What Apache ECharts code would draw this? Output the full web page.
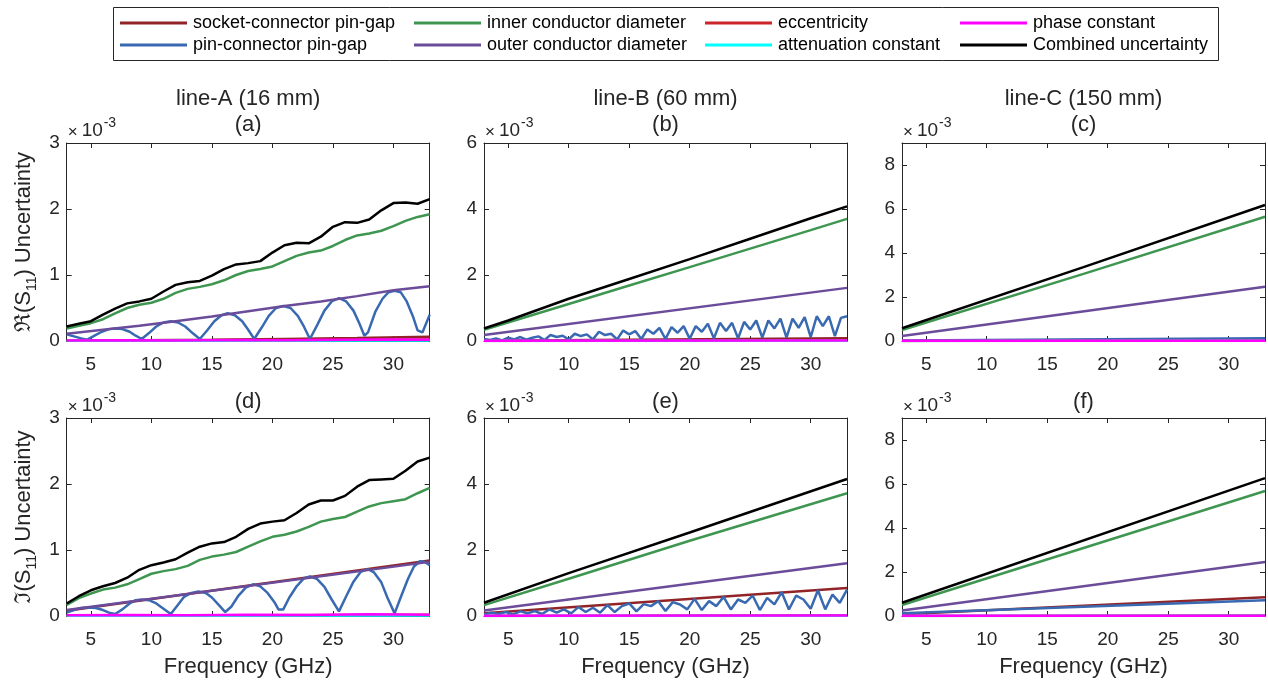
<!DOCTYPE html>
<html><head><meta charset="utf-8">
<script src="https://cdn.jsdelivr.net/npm/echarts@6/dist/echarts.min.js"></script>
<style>html,body{margin:0;padding:0;background:#fff}#c{width:1268px;height:681px}</style>
</head><body><div id="c"></div>
<script>
// ---------------- DATA (values in units of 1e-3) ----------------
const seriesNames = ['socket-connector pin-gap','pin-connector pin-gap','inner conductor diameter','outer conductor diameter','eccentricity','attenuation constant','phase constant','Combined uncertainty'];
const xTickValues = [5,10,15,20,25,30];
const panelLetters = ['(a)','(b)','(c)','(d)','(e)','(f)'];
const lineTitles = ['line-A (16 mm)','line-B (60 mm)','line-C (150 mm)'];

const freq = [3,4,5,6,7,8,9,10,11,12,13,14,15,16,17,18,19,20,21,22,23,24,25,26,27,28,29,30,31,32,33];
const freqEnds = [3,33];

// (a) line-A, real part
const aCombined = [0.22,0.26,0.30,0.40,0.49,0.57,0.60,0.64,0.75,0.85,0.89,0.91,0.99,1.09,1.16,1.18,1.21,1.34,1.45,1.49,1.48,1.58,1.73,1.80,1.79,1.84,1.98,2.09,2.10,2.08,2.15];
const aInner = [0.19,0.23,0.27,0.33,0.42,0.50,0.55,0.58,0.64,0.73,0.79,0.82,0.86,0.92,1.00,1.06,1.09,1.13,1.21,1.29,1.34,1.37,1.44,1.53,1.60,1.63,1.67,1.74,1.82,1.88,1.92];
const aOuterF = [3,6,9,12,15,18,21,24,27,30,33];
const aOuter = [0.11,0.17,0.23,0.30,0.37,0.45,0.53,0.60,0.68,0.77,0.83];
const aPinF = [3.0,3.6,4.2,4.7,5.3,5.9,6.5,7.0,7.6,8.2,8.7,9.2,9.8,10.4,11.0,11.6,12.2,12.8,13.4,14.0,14.6,15.2,15.8,16.3,16.9,17.5,18.0,18.5,19.1,19.7,20.3,20.9,21.5,22.1,22.6,23.1,23.7,24.3,24.9,25.5,26.1,26.7,27.2,27.6,27.9,28.5,29.1,29.6,30.1,30.6,31.1,31.6,32.0,32.4,33.0];
const aPin = [0.10,0.07,0.04,0.02,0.08,0.14,0.18,0.19,0.18,0.14,0.08,0.03,0.12,0.22,0.28,0.30,0.28,0.22,0.12,0.03,0.16,0.30,0.39,0.42,0.39,0.30,0.17,0.03,0.20,0.38,0.50,0.53,0.50,0.38,0.22,0.03,0.24,0.46,0.60,0.65,0.60,0.46,0.26,0.08,0.13,0.44,0.64,0.74,0.76,0.74,0.60,0.38,0.16,0.13,0.40];
const aSocketF = [3,9,15,21,27,33];
const aSocket = [0.005,0.012,0.020,0.032,0.045,0.065];
const aEcc = [0.002,0.022];
const aAtten = [0.002,0.006];
const aPhaseF = [3,8,12,17,21,26,30,33];
const aPhase = [0.006,0.010,0.008,0.014,0.012,0.018,0.022,0.020];

// (b) line-B, real part
const bCombinedF = [3,5,10,15,20,25,30,33];
const bCombined = [0.38,0.62,1.28,1.88,2.48,3.10,3.72,4.08];
const bInnerF = [3,10,15,20,25,30,33];
const bInner = [0.34,1.12,1.68,2.24,2.80,3.36,3.70];
const bOuter = [0.18,1.61];
const bPinF = [3,3.5,4,4.5,5,5.5,6,6.5,7,7.5,8,8.5,9,9.5,10,10.5,11,11.5,12,12.5,13,13.5,14,14.5,15,15.5,16,16.5,17,17.5,18,18.5,19,19.5,20,20.5,21,21.5,22,22.5,23,23.5,24,24.5,25,25.5,26,26.5,27,27.5,28,28.5,29,29.5,30,30.5,31,31.5,32,32.5,33];
const bPin = [0.06,0.03,0.08,0.02,0.10,0.05,0.12,0.04,0.10,0.14,0.03,0.18,0.12,0.16,0.05,0.22,0.15,0.20,0.05,0.28,0.18,0.22,0.05,0.32,0.20,0.30,0.06,0.35,0.22,0.40,0.06,0.42,0.25,0.45,0.07,0.45,0.28,0.52,0.08,0.55,0.30,0.55,0.08,0.58,0.35,0.62,0.10,0.62,0.38,0.68,0.10,0.68,0.40,0.72,0.12,0.75,0.45,0.75,0.15,0.70,0.75];
const bSocket = [0.01,0.08];
const bEcc = [0.003,0.020];
const bAtten = [0.002,0.005];
const bPhase = [0.008,0.012];

// (c) line-C, real part
const cMidF = [3,18,33];
const cCombined = [0.58,3.36,6.18];
const cInner = [0.50,3.05,5.65];
const cOuter = [0.23,2.47];
const cPin = [0.02,0.13];
const cSocket = [0.005,0.08];
const cEcc = [0.002,0.020];
const cAtten = [0.002,0.006];
const cPhase = [0.010,0.015];

// (d) line-A, imaginary part
const dCombined = [0.19,0.30,0.39,0.45,0.50,0.58,0.70,0.77,0.81,0.86,0.96,1.05,1.10,1.12,1.20,1.32,1.40,1.43,1.45,1.56,1.69,1.75,1.75,1.82,1.96,2.06,2.07,2.08,2.20,2.34,2.40];
const dInner = [0.17,0.27,0.34,0.40,0.43,0.48,0.56,0.64,0.68,0.71,0.76,0.85,0.90,0.93,0.97,1.05,1.13,1.20,1.23,1.28,1.35,1.43,1.47,1.50,1.58,1.66,1.71,1.74,1.77,1.86,1.94];
const dOuter = [0.09,0.82];
const dSocket = [0.08,0.84];
const dPinF = [3.0,3.6,4.2,4.8,5.4,6.0,6.5,7.0,7.6,8.2,8.7,9.2,9.8,10.4,11.0,11.6,12.2,12.7,13.3,13.9,14.5,15.0,15.6,16.1,16.6,17.2,17.8,18.4,19.0,19.6,20.2,20.5,20.9,21.4,22.0,22.6,23.1,23.7,24.3,24.9,25.5,26.1,26.7,27.3,27.9,28.4,29.0,29.5,30.1,30.6,31.2,31.7,32.2,32.6,33.0];
const dPin = [0.05,0.09,0.12,0.13,0.12,0.09,0.05,0.03,0.10,0.19,0.24,0.25,0.24,0.19,0.11,0.03,0.17,0.29,0.35,0.37,0.35,0.28,0.16,0.06,0.14,0.31,0.43,0.48,0.45,0.35,0.20,0.10,0.10,0.28,0.45,0.57,0.60,0.56,0.44,0.25,0.07,0.30,0.52,0.67,0.71,0.66,0.51,0.28,0.04,0.28,0.56,0.75,0.83,0.82,0.77];
const dEcc = [0.003,0.020];
const dAtten = [0.002,0.008];
const dPhaseF = [3,8,13,18,23,28,33];
const dPhase = [0.010,0.015,0.012,0.020,0.015,0.025,0.020];

// (e) line-B, imaginary part
const eLinF = [3,10,20,33];
const eCombined = [0.40,1.30,2.53,4.15];
const eInner = [0.33,1.13,2.28,3.72];
const eOuter = [0.17,1.60];
const eSocket = [0.08,0.85];
const ePinF = [3.0,3.6,4.2,4.8,5.4,6.0,6.6,7.2,7.8,8.4,9.0,9.6,10.2,10.8,11.4,12.0,12.6,13.2,13.8,14.4,15.0,15.6,16.2,16.8,17.4,18.0,18.6,19.2,19.8,20.4,21.0,21.6,22.2,22.8,23.4,24.0,24.6,25.2,25.8,26.4,27.0,27.6,28.2,28.8,29.4,30.0,30.6,31.2,31.8,32.4,33.0];
const ePin = [0.05,0.10,0.06,0.12,0.05,0.14,0.08,0.15,0.06,0.20,0.10,0.20,0.08,0.27,0.12,0.25,0.10,0.33,0.12,0.30,0.38,0.14,0.36,0.30,0.45,0.15,0.42,0.35,0.20,0.52,0.18,0.45,0.30,0.58,0.20,0.50,0.40,0.62,0.18,0.55,0.35,0.72,0.20,0.62,0.50,0.22,0.78,0.20,0.65,0.40,0.80];
const eEcc = [0.003,0.020];
const eAtten = [0.002,0.005];
const ePhase = [0.008,0.012];

// (f) line-C, imaginary part
const fCombined = [0.60,6.27];
const fInner = [0.50,5.68];
const fOuter = [0.25,2.45];
const fSocket = [0.08,0.85];
const fPin = [0.12,0.72];
const fEcc = [0.002,0.020];
const fAtten = [0.002,0.006];
const fPhase = [0.010,0.015];

const yMaxes = [3,6,9,3,6,9];
const yTickValues = [[0,1,2,3],[0,2,4,6],[0,2,4,6,8],[0,1,2,3],[0,2,4,6],[0,2,4,6,8]];

// ---------------- BUILD ----------------
function zip(xs, ys){ return xs.map((x,i)=>[x, ys[i]]); }
const panelData = [
  [zip(aSocketF,aSocket), zip(aPinF,aPin), zip(freq,aInner), zip(aOuterF,aOuter), zip(freqEnds,aEcc), zip(freqEnds,aAtten), zip(aPhaseF,aPhase), zip(freq,aCombined)],
  [zip(freqEnds,bSocket), zip(bPinF,bPin), zip(bInnerF,bInner), zip(freqEnds,bOuter), zip(freqEnds,bEcc), zip(freqEnds,bAtten), zip(freqEnds,bPhase), zip(bCombinedF,bCombined)],
  [zip(freqEnds,cSocket), zip(freqEnds,cPin), zip(cMidF,cInner), zip(freqEnds,cOuter), zip(freqEnds,cEcc), zip(freqEnds,cAtten), zip(freqEnds,cPhase), zip(cMidF,cCombined)],
  [zip(freqEnds,dSocket), zip(dPinF,dPin), zip(freq,dInner), zip(freqEnds,dOuter), zip(freqEnds,dEcc), zip(freqEnds,dAtten), zip(dPhaseF,dPhase), zip(freq,dCombined)],
  [zip(freqEnds,eSocket), zip(ePinF,ePin), zip(eLinF,eInner), zip(freqEnds,eOuter), zip(freqEnds,eEcc), zip(freqEnds,eAtten), zip(freqEnds,ePhase), zip(eLinF,eCombined)],
  [zip(freqEnds,fSocket), zip(freqEnds,fPin), zip(freqEnds,fInner), zip(freqEnds,fOuter), zip(freqEnds,fEcc), zip(freqEnds,fAtten), zip(freqEnds,fPhase), zip(freqEnds,fCombined)]
];

const FONT = '"Liberation Sans", Arial, Helvetica, sans-serif';
const TXT = '#262626';
const colors = ['#922428','#396AB1','#3E9651','#6B4C9A','#CC2529','#00FFFF','#FF00FF','#000000'];
const gridLefts = [66.7, 484, 902];
const gridW = 363;
const gridTops = [143, 418];
const gridH = 198;

function txt(x, y, s, size, align) {
  return {type: 'text', x: x, y: y, z: 20,
    style: {text: s, font: size + 'px ' + FONT, fill: TXT,
      align: align, verticalAlign: 'middle', textAlign: align, textVerticalAlign: 'middle'}};
}

const grids = [], xAxes = [], yAxes = [], series = [], gfx = [];
for (let p = 0; p < 6; p++) {
  const col = p % 3, row = Math.floor(p / 3);
  grids.push({left: gridLefts[col], top: gridTops[row], width: gridW, height: gridH, containLabel: false});
  const axLine = {show: true, onZero: false, lineStyle: {color: TXT, width: 1}};
  const tick = (vals) => ({show: true, inside: true, length: 5, customValues: vals, lineStyle: {color: TXT, width: 1}});
  xAxes.push({
    type: 'value', gridIndex: p, min: 3, max: 33, position: 'bottom',
    axisLine: axLine, axisTick: tick(xTickValues), splitLine: {show: false},
    axisLabel: {show: true, customValues: xTickValues, margin: 14, fontSize: 19, color: TXT, fontFamily: FONT},
    name: row === 1 ? 'Frequency (GHz)' : '', nameLocation: 'middle', nameGap: 40,
    nameTextStyle: {fontSize: 22, color: TXT, fontFamily: FONT}
  });
  xAxes.push({
    type: 'value', gridIndex: p, min: 3, max: 33, position: 'top',
    axisLine: axLine, axisTick: tick(xTickValues), splitLine: {show: false},
    axisLabel: {show: false}
  });
  const yName = col === 0 ? (row === 0 ? '{n|\u211C(S}{s|11}{n|) Uncertainty}' : '{n|\u2111(S}{s|11}{n|) Uncertainty}') : '';
  yAxes.push({
    type: 'value', gridIndex: p, min: 0, max: yMaxes[p], position: 'left',
    axisLine: axLine, axisTick: tick(yTickValues[p]), splitLine: {show: false},
    axisLabel: {show: true, customValues: yTickValues[p], margin: 7, fontSize: 19, color: TXT, fontFamily: FONT},
    name: yName, nameLocation: 'middle', nameGap: 28, nameRotate: 90,
    nameTextStyle: {fontSize: 22, color: TXT, fontFamily: FONT,
      rich: {n: {fontSize: 22, lineHeight: 30, color: TXT, fontFamily: FONT},
             s: {fontSize: 14, lineHeight: 14, verticalAlign: 'bottom', color: TXT, fontFamily: FONT}}}
  });
  yAxes.push({
    type: 'value', gridIndex: p, min: 0, max: yMaxes[p], position: 'right',
    axisLine: axLine, axisTick: tick(yTickValues[p]), splitLine: {show: false},
    axisLabel: {show: false}
  });
  for (let s = 0; s < 8; s++) {
    series.push({
      type: 'line', name: seriesNames[s], xAxisIndex: 2 * p, yAxisIndex: 2 * p,
      data: panelData[p][s], symbol: 'none', showSymbol: false, clip: true, silent: true,
      color: colors[s], lineStyle: {width: 2.5, color: colors[s]}, z: 2
    });
  }
  const cx = gridLefts[col] + gridW / 2;
  gfx.push(txt(cx, gridTops[row] - (row === 0 ? 18 : 16), panelLetters[p], 22, 'center'));
  if (row === 0) gfx.push(txt(cx, 99, lineTitles[col], 22, 'center'));
  const L = gridLefts[col];
  const ty = gridTops[row] - 12;
  gfx.push(txt(L + 1, ty + 1, '\u00D7', 17, 'left'));
  gfx.push(txt(L + 15, ty, '10', 19, 'left'));
  gfx.push(txt(L + 37, ty - 8, '-3', 14, 'left'));
}
gfx.push({type: 'rect', shape: {x: 113.5, y: 7.5, width: 1105, height: 53}, style: {fill: 'none', stroke: '#262626', lineWidth: 1}, z: 10});

const legendCols = [[0,1],[2,3],[4,5],[6,7]];
const legendX = [120, 414, 705, 960];
const legends = legendCols.map((c, i) => ({
  orient: 'vertical', left: legendX[i], top: 14, padding: 0, itemGap: 4,
  itemWidth: 67, itemHeight: 3, icon: 'rect', selectedMode: false,
  data: c.map(k => seriesNames[k]),
  textStyle: {fontSize: 18, color: '#000', fontFamily: FONT, padding: [0, 0, 0, 1]}
}));

const chart = echarts.init(document.getElementById('c'), null, {renderer: 'canvas'});
chart.setOption({
  animation: false, backgroundColor: '#fff',
  grid: grids, xAxis: xAxes, yAxis: yAxes, series: series,
  legend: legends, graphic: {elements: gfx}
});
</script></body></html>
